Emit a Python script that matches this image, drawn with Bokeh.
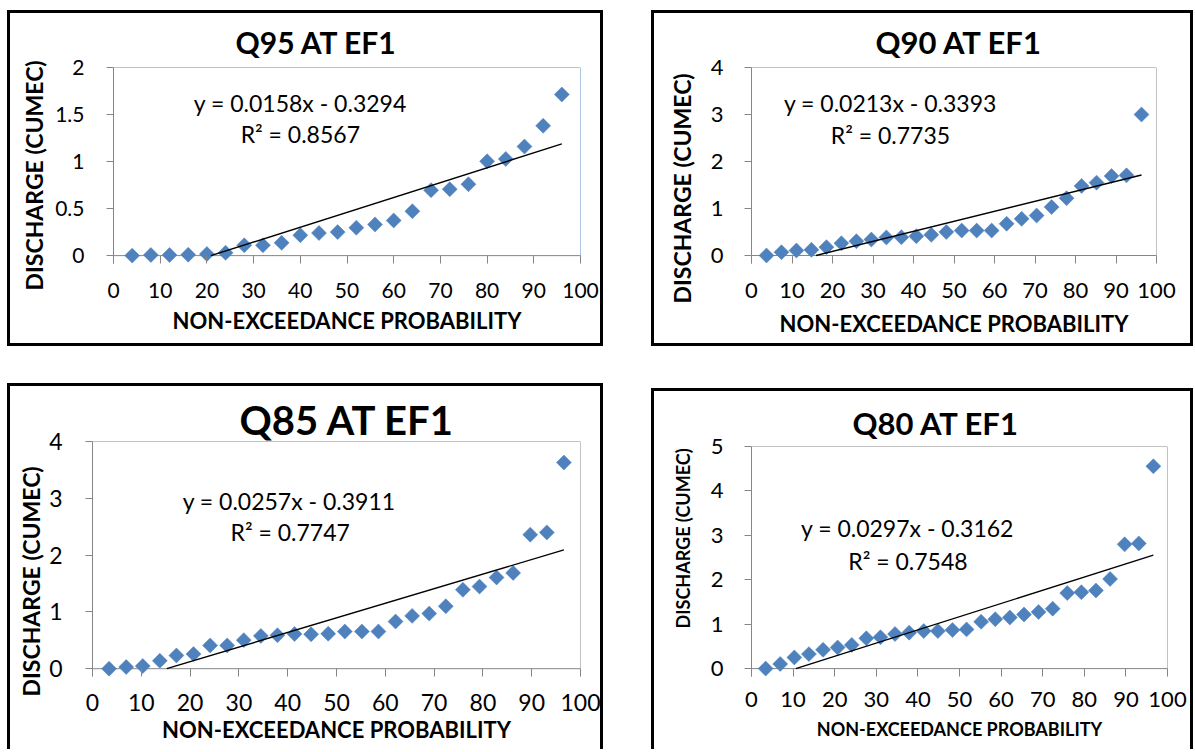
import numpy as np
from bokeh.plotting import figure
from bokeh.models import Range1d, FixedTicker, Label, Span, Title, NumeralTickFormatter
from bokeh.layouts import row, column
from bokeh.embed import file_html
from bokeh.resources import INLINE

# ---- data: non-exceedance probability (%) vs discharge (cumec) ----
q95_prob = [4, 8, 12, 16, 20, 24, 28, 32, 36, 40, 44, 48, 52, 56, 60, 64,
            68, 72, 76, 80, 84, 88, 92, 96]
q95_flow = [0.0, 0.007, 0.007, 0.01, 0.017, 0.03, 0.11, 0.11, 0.136, 0.217,
            0.24, 0.25, 0.297, 0.332, 0.374, 0.472, 0.696, 0.706, 0.759,
            1.003, 1.028, 1.16, 1.38, 1.713]

q90_prob = [3.7, 7.4, 11.1, 14.8, 18.5, 22.2, 25.9, 29.6, 33.3, 37.0, 40.7,
            44.4, 48.1, 51.9, 55.6, 59.3, 63.0, 66.7, 70.4, 74.1, 77.8, 81.5,
            85.2, 88.9, 92.6, 96.3]
q90_flow = [0.0, 0.07, 0.107, 0.12, 0.178, 0.26, 0.305, 0.34, 0.385, 0.39,
            0.41, 0.44, 0.5, 0.53, 0.53, 0.53, 0.675, 0.78, 0.85, 1.03, 1.22,
            1.48, 1.55, 1.69, 1.705, 3.0]

q85_prob = [3.4, 6.9, 10.3, 13.8, 17.2, 20.7, 24.1, 27.6, 31.0, 34.5, 37.9,
            41.4, 44.8, 48.3, 51.7, 55.2, 58.6, 62.1, 65.5, 69.0, 72.4, 75.9,
            79.3, 82.8, 86.2, 89.7, 93.1, 96.6]
q85_flow = [0.0, 0.03, 0.046, 0.14, 0.234, 0.257, 0.41, 0.41, 0.503, 0.577,
            0.589, 0.612, 0.605, 0.615, 0.655, 0.655, 0.655, 0.83, 0.93, 0.97,
            1.1, 1.39, 1.446, 1.606, 1.686, 2.36, 2.4, 3.63]

q80_prob = [3.4, 6.9, 10.3, 13.8, 17.2, 20.7, 24.1, 27.6, 31.0, 34.5, 37.9,
            41.4, 44.8, 48.3, 51.7, 55.2, 58.6, 62.1, 65.5, 69.0, 72.4, 75.9,
            79.3, 82.8, 86.2, 89.7, 93.1, 96.6]
q80_flow = [0.0, 0.104, 0.252, 0.326, 0.423, 0.475, 0.534, 0.682, 0.705,
            0.779, 0.809, 0.846, 0.846, 0.868, 0.883, 1.053, 1.113, 1.15,
            1.217, 1.276, 1.35, 1.7, 1.72, 1.758, 2.018, 2.797, 2.819, 4.555]

# linear trendline coefficients (slope, intercept) and R^2
q95_fit = (0.0158, -0.3294, 0.8567)
q90_fit = (0.0213, -0.3393, 0.7735)
q85_fit = (0.0257, -0.3911, 0.7747)
q80_fit = (0.0297, -0.3162, 0.7548)

x_ticks = [0, 10, 20, 30, 40, 50, 60, 70, 80, 90, 100]
q95_yticks = [0, 0.5, 1, 1.5, 2]
q90_yticks = [0, 1, 2, 3, 4]
q85_yticks = [0, 1, 2, 3, 4]
q80_yticks = [0, 1, 2, 3, 4, 5]

titles = ["Q95 AT EF1", "Q90 AT EF1", "Q85 AT EF1", "Q80 AT EF1"]
x_title = "NON-EXCEEDANCE PROBABILITY"
y_title = "DISCHARGE (CUMEC)"

FONT = "Lato"
MARKER = "#4F81BD"
AXIS = "#868686"
EXT = 8  # px of plot frame kept below y=0 so markers sitting on the axis show whole


def make_panel(title, prob, flow, fit, yticks, g):
    slope, icept, r2 = fit
    cw, ch = g["canvas"]
    left, top, fw, axis_h = g["frame"]
    ymax = yticks[-1]
    ystart = -EXT * ymax / axis_h
    p = figure(width=cw, height=ch, output_backend="svg", toolbar_location=None,
               x_range=Range1d(0, 100), y_range=Range1d(ystart, ymax),
               min_border_left=left, min_border_top=top,
               min_border_right=cw - left - fw,
               min_border_bottom=ch - top - axis_h - EXT,
               outline_line_color=None, background_fill_color="white",
               border_fill_color="white", margin=g["margin"])
    # black chart-area border
    p.styles = {"border-style": "solid", "border-color": "black",
                "border-width": g["border"]}
    p.grid.visible = False

    # title above the plot area
    p.title.text = title
    p.title.text_font = FONT
    p.title.text_font_style = "bold"
    p.title.text_font_size = g["title_size"]
    p.title.text_color = "black"
    p.title.align = "left"
    p.title.offset = g["title_off"]
    p.title.standoff = g["title_stand"]

    xa, ya = p.xaxis[0], p.yaxis[0]
    for ax in (xa, ya):
        ax.major_tick_line_color = AXIS
        ax.minor_tick_line_color = None
        ax.major_label_text_font = FONT
        ax.major_label_text_font_size = g["tick_size"]
        ax.major_label_text_color = "black"
    # x axis sits on the frame edge below zero: its ticks reach up to y=0
    xa.axis_line_color = None
    xa.major_tick_in = EXT
    xa.major_tick_out = 0
    xa.ticker = FixedTicker(ticks=x_ticks)
    xa.major_label_standoff = g["xstand"]
    xa.axis_label = x_title
    xa.axis_label_text_font = FONT
    xa.axis_label_text_font_style = "bold"
    xa.axis_label_text_font_size = g["xlabel_size"]
    xa.axis_label_text_color = "black"
    xa.axis_label_standoff = g["xlab_stand"]

    ya.axis_line_color = AXIS
    ya.major_tick_in = 0
    ya.major_tick_out = 7
    ya.ticker = FixedTicker(ticks=yticks)
    ya.formatter = NumeralTickFormatter(format="0.[0]")
    ya.major_label_standoff = g["ystand"]

    ytitle = Title(text=y_title, align="left", offset=g["ylab_off"],
                   standoff=g["ylab_stand"], text_font=FONT,
                   text_font_style="bold", text_font_size=g["ylabel_size"],
                   text_color="black")
    p.add_layout(ytitle, "left")

    # horizontal axis line at zero and plot-area frame (top, right)
    p.add_layout(Span(location=0, dimension="width", line_color=AXIS,
                      line_width=1, level="underlay"))
    p.add_layout(Span(location=ymax, dimension="width",
                      line_color=g["frame_color"], line_width=1, level="underlay"))
    p.add_layout(Span(location=100, dimension="height",
                      line_color=g["frame_color"], line_width=1, level="underlay"))

    p.scatter(prob, flow, marker="square", angle=np.pi / 4, size=10.6,
              fill_color=MARKER, line_color=MARKER, line_width=0.5)

    # trendline, clipped where it drops below zero
    x0 = max(min(prob), -icept / slope)
    x1 = max(prob)
    p.line([x0, x1], [slope * x0 + icept, slope * x1 + icept],
           line_color="black", line_width=1.4)

    sign = "-" if icept < 0 else "+"
    eq1 = f"y = {slope:.4f}x {sign} {abs(icept):.4f}"
    eq2 = f"R\u00b2 = {r2:.4f}"
    lab = g["labels"]
    for key, txt in (("eq1", eq1), ("eq2", eq2)):
        p.add_layout(Label(x=lab[key][0], y=lab[key][1], text=txt,
                           text_align="center", text_baseline="middle",
                           text_font=FONT, text_font_size="23px",
                           text_color="black"))
    return p


g95 = dict(canvas=(596, 336), frame=(103, 54, 467, 191), margin=(10, 0, 0, 7),
           border="3px", frame_color="#5B8BC9", tick_size="21px",
           xstand=19, ystand=22, title_size="30px", title_off=122,
           title_stand=15, xlabel_size="22px", ylabel_size="23px", xlab_stand=6,
           ylab_off=-27, ylab_stand=9,
           labels=dict(eq1=(40.0, 1.62), eq2=(40.0, 1.29)))
g90 = dict(canvas=(542, 336), frame=(97, 54, 405, 188), margin=(10, 0, 0, 48),
           border="3px", frame_color=AXIS, tick_size="22px",
           xstand=19, ystand=21, title_size="31px", title_off=124,
           title_stand=13, xlabel_size="22px", ylabel_size="23px", xlab_stand=9,
           ylab_off=-40, ylab_stand=23,
           labels=dict(eq1=(34.3, 3.24), eq2=(34.3, 2.57)))
g85 = dict(canvas=(596, 366), frame=(82, 55, 488, 233), margin=(37, 0, 0, 7),
           border="3px 3px 0px 3px", frame_color=AXIS, tick_size="23px",
           xstand=17, ystand=23, title_size="40px", title_off=147,
           title_stand=-5, xlabel_size="22px", ylabel_size="23px", xlab_stand=2,
           ylab_off=-20, ylab_stand=3,
           labels=dict(eq1=(40.3, 2.96), eq2=(40.5, 2.415)))
g80 = dict(canvas=(542, 361), frame=(97, 52, 416, 225), margin=(42, 0, 0, 48),
           border="3px 3px 0px 3px", frame_color=AXIS, tick_size="22px",
           xstand=15, ystand=21, title_size="31px", title_off=101,
           title_stand=9, xlabel_size="18px", ylabel_size="18px", xlab_stand=8,
           ylab_off=48, ylab_stand=28,
           labels=dict(eq1=(37.5, 3.16), eq2=(37.6, 2.43)))

p1 = make_panel(titles[0], q95_prob, q95_flow, q95_fit, q95_yticks, g95)
p2 = make_panel(titles[1], q90_prob, q90_flow, q90_fit, q90_yticks, g90)
p3 = make_panel(titles[2], q85_prob, q85_flow, q85_fit, q85_yticks, g85)
p4 = make_panel(titles[3], q80_prob, q80_flow, q80_fit, q80_yticks, g80)

layout = column(row(p1, p2, spacing=0), row(p3, p4, spacing=0), spacing=0)

open("out.html", "w").write(file_html(layout, INLINE))
